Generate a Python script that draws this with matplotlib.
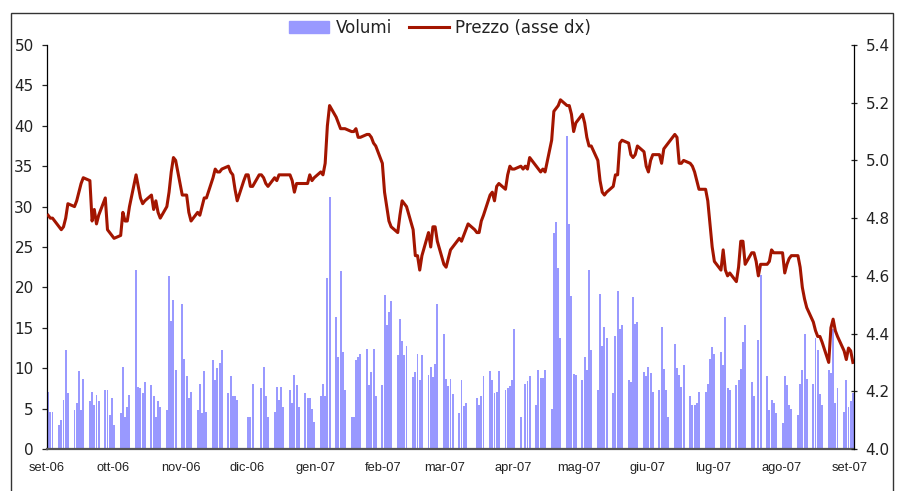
import matplotlib
matplotlib.use('Agg')
import matplotlib.pyplot as plt
import matplotlib.dates as mdates
from matplotlib.patches import Rectangle
from matplotlib.lines import Line2D
import pandas as pd

# Trading days shown: Wed 6 Sep 2006 .. Fri 7 Sep 2007
FIRST_DAY = '2006-09-06'
LAST_DAY = '2007-09-07'

# Volumi (left axis), one row per week Mon..Fri, 0 = no bar
volumi = [
    7.0, 4.6, 4.6,
    3.0, 3.6, 6.1, 12.2, 6.9,
    4.8, 5.7, 9.7, 4.8, 8.7,
    5.9, 7.1, 5.4, 6.7, 5.9,
    7.3, 7.3, 4.2, 6.3, 3.0,
    4.4, 10.2, 4.0, 5.2, 6.7,
    22.2, 7.7, 7.5, 6.9, 8.3,
    7.9, 6.5, 4.0, 5.9, 5.2,
    4.8, 21.4, 15.8, 18.4, 9.8,
    17.9, 11.2, 9.0, 6.3, 7.1,
    4.8, 8.1, 4.5, 9.6, 4.6,
    11.0, 8.5, 10.0, 10.6, 12.3,
    6.9, 9.0, 6.5, 6.5, 6.1,
    0, 0, 4.0, 4.0, 8.1,
    0, 7.5, 10.2, 6.5, 4.0,
    4.6, 7.7, 6.1, 7.7, 5.2,
    7.3, 5.7, 9.2, 7.9, 5.2,
    6.9, 6.3, 6.3, 5.0, 3.4,
    6.5, 8.1, 6.5, 21.2, 31.2,
    16.3, 11.4, 22.0, 12.0, 7.3,
    4.0, 4.0, 11.0, 11.4, 11.7,
    12.4, 7.9, 9.5, 12.4, 6.5,
    7.9, 19.1, 15.3, 16.9, 18.3,
    11.6, 16.1, 13.4, 11.6, 12.8,
    8.9, 9.5, 11.7, 8.5, 11.6,
    9.1, 10.1, 8.9, 10.5, 17.9,
    14.2, 8.7, 7.8, 8.7, 6.8,
    4.5, 8.6, 5.3, 5.7, 0,
    0, 6.3, 5.5, 6.5, 9.0,
    9.6, 8.6, 6.9, 7.1, 9.6,
    7.3, 7.5, 7.8, 8.6, 14.8,
    4.0, 0, 8.0, 8.4, 9.0,
    5.5, 9.8, 8.8, 8.8, 9.8,
    4.9, 26.7, 28.1, 22.4, 13.8,
    38.7, 27.9, 18.9, 9.3, 9.1,
    8.5, 11.4, 9.8, 22.2, 12.3,
    7.3, 19.2, 12.7, 15.1, 13.7,
    6.9, 14.0, 19.6, 14.9, 15.4,
    8.5, 8.3, 18.8, 15.5, 15.7,
    9.5, 9.0, 10.1, 9.4, 7.1,
    7.3, 15.1, 9.9, 7.3, 4.0,
    13.0, 10.0, 9.2, 7.7, 10.4,
    6.5, 5.4, 5.4, 5.7, 7.0,
    7.0, 8.1, 11.1, 12.6, 11.8,
    12.0, 10.4, 16.3, 7.5, 7.3,
    7.9, 8.6, 9.9, 13.2, 15.4,
    8.3, 6.5, 0, 13.5, 21.5,
    9.0, 4.8, 6.1, 5.7, 4.4,
    3.2, 9.0, 7.9, 5.4, 5.0,
    4.2, 8.1, 9.8, 14.2, 8.7,
    8.1, 13.7, 12.3, 6.8, 5.4,
    9.8, 9.4, 14.9, 5.7, 7.5,
    4.6, 8.5, 5.2, 5.9, 6.9,
]

# Prezzo (right axis), same days
prezzo = [
    4.81, 4.80, 4.80,
    4.77, 4.76, 4.77, 4.80, 4.85,
    4.84, 4.86, 4.89, 4.92, 4.94,
    4.93, 4.79, 4.83, 4.78, 4.81,
    4.87, 4.76, 4.75, 4.74, 4.73,
    4.74, 4.82, 4.79, 4.79, 4.84,
    4.95, 4.91, 4.87, 4.85, 4.86,
    4.88, 4.83, 4.86, 4.82, 4.80,
    4.84, 4.89, 4.96, 5.01, 5.00,
    4.88, 4.88, 4.88, 4.82, 4.79,
    4.82, 4.81, 4.84, 4.87, 4.87,
    4.94, 4.97, 4.96, 4.96, 4.97,
    4.98, 4.96, 4.95, 4.90, 4.86,
    4.93, 4.95, 4.95, 4.91, 4.91,
    4.95, 4.95, 4.94, 4.92, 4.91,
    4.94, 4.93, 4.95, 4.95, 4.95,
    4.95, 4.93, 4.89, 4.92, 4.92,
    4.92, 4.92, 4.95, 4.93, 4.94,
    4.96, 4.95, 4.99, 5.12, 5.19,
    5.15, 5.13, 5.11, 5.11, 5.11,
    5.10, 5.10, 5.11, 5.08, 5.08,
    5.09, 5.09, 5.08, 5.06, 5.05,
    4.99, 4.89, 4.84, 4.79, 4.77,
    4.75, 4.81, 4.86, 4.85, 4.84,
    4.76, 4.67, 4.67, 4.62, 4.67,
    4.75, 4.70, 4.77, 4.77, 4.72,
    4.64, 4.63, 4.66, 4.69, 4.70,
    4.73, 4.72, 4.74, 4.76, 4.78,
    4.76, 4.75, 4.75, 4.79, 4.81,
    4.88, 4.89, 4.86, 4.91, 4.92,
    4.90, 4.95, 4.98, 4.97, 4.97,
    4.98, 4.97, 4.98, 4.97, 5.01,
    4.98, 4.97, 4.96, 4.97, 4.96,
    5.07, 5.17, 5.18, 5.19, 5.21,
    5.19, 5.19, 5.16, 5.10, 5.13,
    5.16, 5.13, 5.08, 5.05, 5.05,
    5.00, 4.93, 4.89, 4.88, 4.89,
    4.91, 4.95, 4.95, 5.06, 5.07,
    5.06, 5.02, 5.01, 5.02, 5.05,
    5.03, 4.98, 4.96, 5.00, 5.02,
    5.02, 4.99, 5.04, 5.05, 5.06,
    5.09, 5.08, 4.99, 4.99, 5.00,
    4.99, 4.98, 4.96, 4.93, 4.90,
    4.90, 4.86, 4.78, 4.70, 4.65,
    4.62, 4.69, 4.62, 4.60, 4.61,
    4.58, 4.63, 4.72, 4.72, 4.64,
    4.68, 4.68, 4.65, 4.60, 4.64,
    4.64, 4.65, 4.69, 4.68, 4.68,
    4.68, 4.61, 4.64, 4.66, 4.67,
    4.67, 4.63, 4.56, 4.52, 4.49,
    4.44, 4.41, 4.39, 4.39, 4.37,
    4.30, 4.42, 4.45, 4.41, 4.39,
    4.34, 4.31, 4.35, 4.34, 4.30,
]

tick_dates = ['2006-09-06', '2006-10-06', '2006-11-06', '2006-12-06',
              '2007-01-06', '2007-02-06', '2007-03-06', '2007-04-06',
              '2007-05-06', '2007-06-06', '2007-07-06', '2007-08-06',
              '2007-09-06']
tick_labels = ['set-06', 'ott-06', 'nov-06', 'dic-06', 'gen-07', 'feb-07',
               'mar-07', 'apr-07', 'mag-07', 'giu-07', 'lug-07', 'ago-07',
               'set-07']

BAR_COL = '#9999ff'
LINE_COL = '#a31500'

days = pd.bdate_range(FIRST_DAY, LAST_DAY)
x = mdates.date2num(days.to_pydatetime())
xt = mdates.date2num(pd.to_datetime(tick_dates).to_pydatetime())

fig = plt.figure(figsize=(9.04, 4.91), dpi=100)
ax = fig.add_axes([0.052, 0.0855, 0.8927, 0.8229])

ax.bar(x + 0.06, volumi, width=0.88, align='edge', color=BAR_COL, linewidth=0)
ax.set_ylim(0, 50)
ax.set_xlim(mdates.date2num(pd.Timestamp('2006-09-06')),
            mdates.date2num(pd.Timestamp('2007-09-08')))
ax.set_yticks(range(0, 51, 5))

ax2 = ax.twinx()
ax2.plot(x + 0.5, prezzo, color=LINE_COL, lw=2.2, solid_joinstyle='round')
ax2.set_ylim(4.0, 5.4)
ax2.set_yticks([4.0, 4.2, 4.4, 4.6, 4.8, 5.0, 5.2, 5.4])
ax2.set_yticklabels([f'{v:.1f}' for v in ax2.get_yticks()])

# spines
for s in ['top', 'right']:
    ax.spines[s].set_visible(False)
for s in ['top', 'left', 'bottom']:
    ax2.spines[s].set_visible(False)
ax.spines['left'].set_linewidth(0.9)
ax.spines['bottom'].set_color('#555555')
ax.spines['bottom'].set_linewidth(1.6)
ax2.spines['right'].set_linewidth(0.9)

ax.set_xticks(xt)
ax.set_xticklabels(tick_labels, fontfamily='Liberation Sans', fontsize=9.3)
ax.tick_params(axis='x', length=0, pad=9, colors='#222222')
ax.tick_params(axis='y', direction='out', length=3.6, width=0.9, pad=6,
               labelsize=11, colors='#222222')
ax2.tick_params(axis='y', direction='inout', length=4.4, width=0.9, pad=6,
                labelsize=11, colors='#222222')

handles = [Rectangle((0, 0), 1, 1, color=BAR_COL),
           Line2D([], [], color=LINE_COL, lw=2.2)]
fig.legend(handles, ['Volumi', 'Prezzo (asse dx)'], loc='center',
           bbox_to_anchor=(0.487, 0.943), ncol=2, frameon=False, fontsize=12,
           handlelength=2.4, handletextpad=0.4, columnspacing=1.0,
           borderaxespad=0, borderpad=0, labelcolor='#222222')

# outer chart frame
fig.patches.append(Rectangle((0.0118, -0.01), 0.9762, 0.984, transform=fig.transFigure,
                             fill=False, edgecolor='#333333', lw=1))

fig.savefig('out.png', dpi=100)
